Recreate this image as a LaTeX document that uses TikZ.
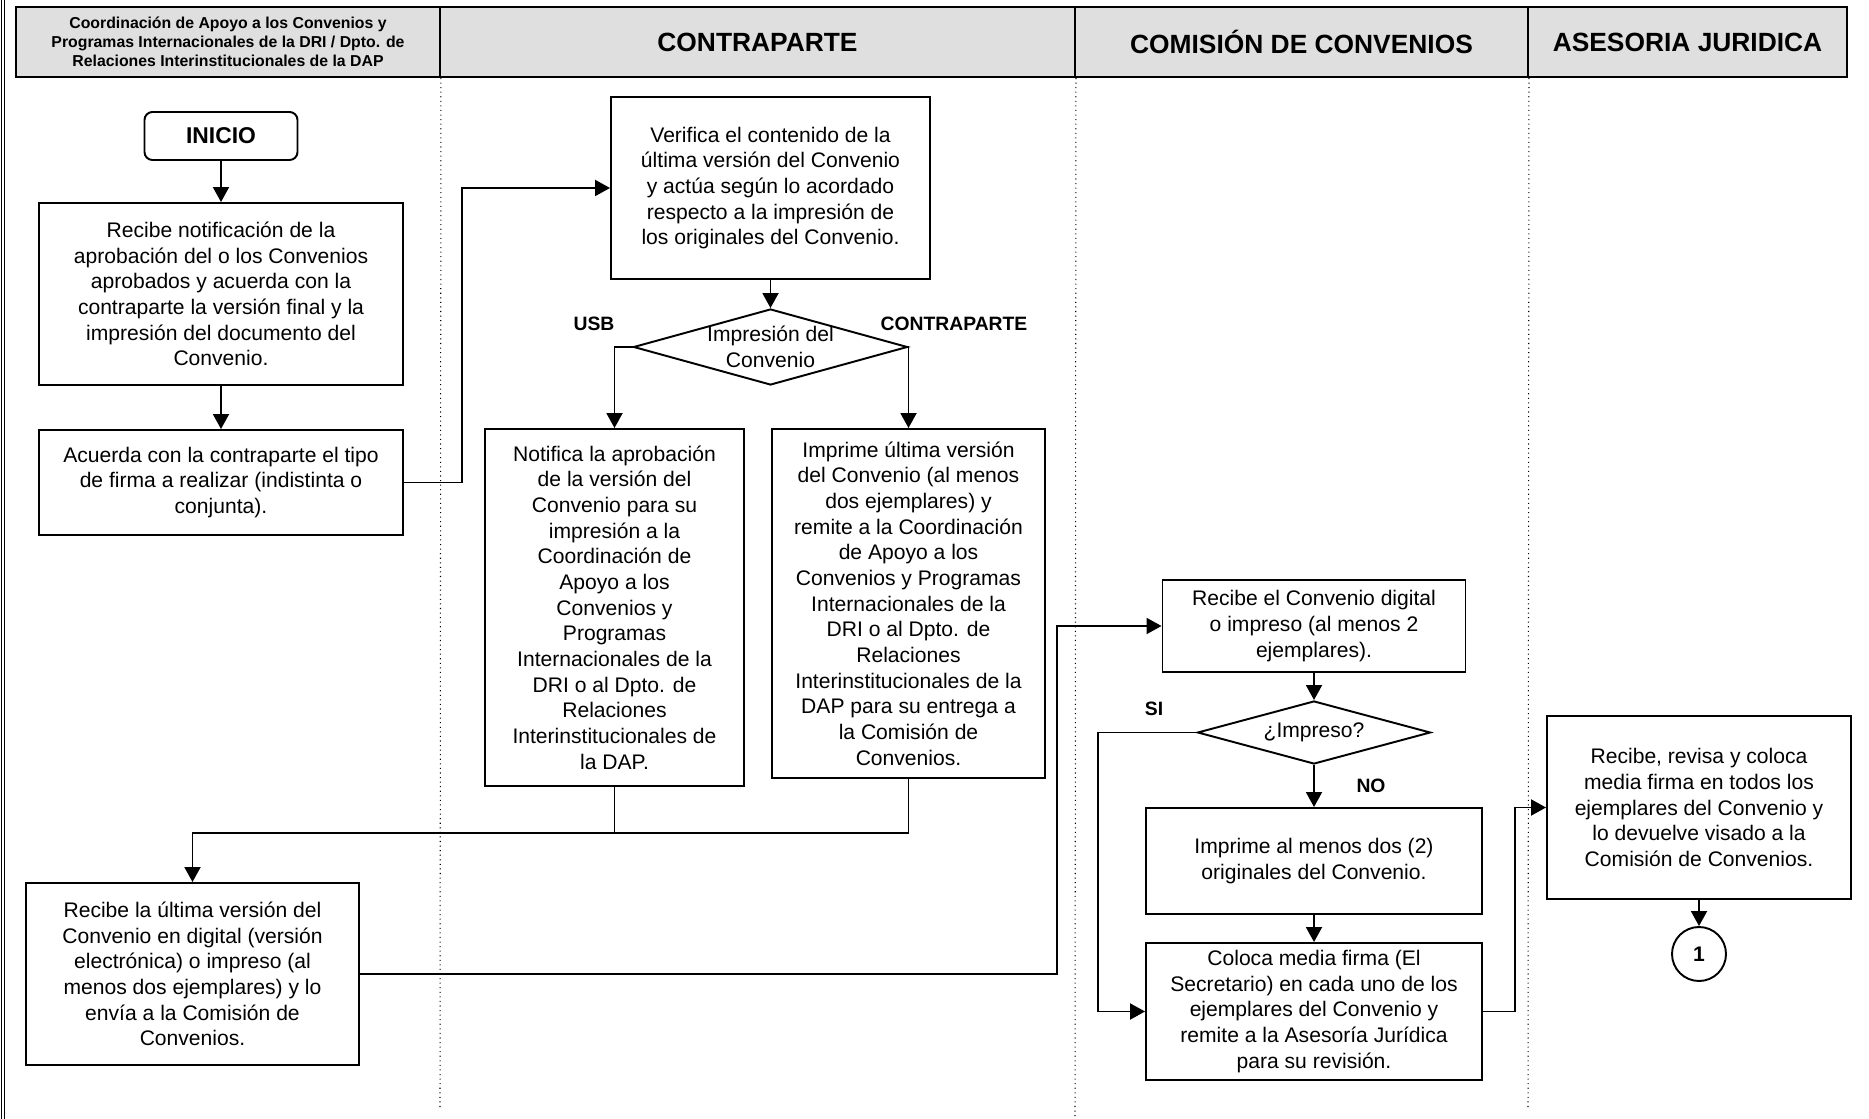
\documentclass[tikz,border=0pt]{standalone}
\usepackage{fontspec}
\setmainfont{Liberation Sans}
\usetikzlibrary{shapes.geometric,arrows.meta}
\newcommand{\cuerpo}{\fontsize{12}{14.6}\selectfont}

\begin{document}
\begin{tikzpicture}[>={Triangle[length=3mm,width=3.2mm]},line width=1.1pt,
  caja/.style={draw,align=center,font=\cuerpo,inner sep=2pt},
  rombo/.style={draw,diamond,inner sep=0pt},
  etiq/.style={font=\fontsize{11}{13}\selectfont\bfseries},
  carril/.style={draw,fill=gray!25,align=center,minimum height=1.4cm,
    font=\fontsize{15}{18}\selectfont\bfseries}]
\useasboundingbox (0,0) rectangle (37.38,-22.38);
% marco izquierdo
\draw[line width=0.6pt] (0.03,0) -- (0.03,-22.38);
\draw[line width=0.6pt] (0.09,0) -- (0.09,-22.38);
% encabezados de los carriles
\node[carril,minimum width=8.48cm,font=\fontsize{9}{10.8}\selectfont\bfseries] (h1) at (4.56,-0.84)
  {Coordinación de Apoyo a los Convenios y\\Programas Internacionales de la DRI / Dpto. de\\Relaciones Interinstitucionales de la DAP};
\node[carril,minimum width=12.7cm] (h2) at (15.15,-0.84) {CONTRAPARTE};
\node[carril,minimum width=9.06cm] (h3) at (26.03,-0.84) {COMISIÓN DE CONVENIOS};
\node[carril,minimum width=6.38cm] (h4) at (33.75,-0.84) {ASESORIA JURIDICA};
\draw[dotted,line width=0.6pt] (h1.south east) -- (8.8,-22.16);
\draw[dotted,line width=0.6pt] (h2.south east) -- (21.5,-22.38);
\draw[dotted,line width=0.6pt] (h3.south east) -- (30.56,-22.16);
% Coordinación / DAP
\node[caja,rounded corners=4.5pt,minimum width=3.06cm,minimum height=0.96cm,
  font=\fontsize{13}{15}\selectfont\bfseries] (ini) at (4.42,-2.72) {INICIO};
\node[caja,minimum width=7.28cm,minimum height=3.64cm] (rnot) at (4.42,-5.88)
  {Recibe notificación de la\\aprobación del o los Convenios\\aprobados y acuerda con la\\contraparte la versión final y la\\impresión del documento del\\Convenio.};
\node[caja,minimum width=7.28cm,minimum height=2.1cm] (acu) at (4.42,-9.65)
  {Acuerda con la contraparte el tipo\\de firma a realizar (indistinta o\\conjunta).};
\node[caja,minimum width=6.66cm,minimum height=3.64cm] (rul) at (3.85,-19.48)
  {Recibe la última versión del\\Convenio en digital (versión\\electrónica) o impreso (al\\menos dos ejemplares) y lo\\envía a la Comisión de\\Convenios.};
% Contraparte
\node[caja,minimum width=6.38cm,minimum height=3.64cm] (ver) at (15.41,-3.76)
  {Verifica el contenido de la\\última versión del Convenio\\y actúa según lo acordado\\respecto a la impresión de\\los originales del Convenio.};
\node[rombo,minimum width=5.48cm,minimum height=1.52cm,
  label={[align=center,font=\cuerpo]center:{Impresión del\\Convenio}}] (dimp) at (15.41,-6.94) {};
\node[etiq] at (11.88,-6.48) {USB};
\node[etiq] at (19.08,-6.48) {CONTRAPARTE};
\node[caja,minimum width=5.18cm,minimum height=7.14cm] (notif) at (12.29,-12.15)
  {Notifica la aprobación\\de la versión del\\Convenio para su\\impresión a la\\Coordinación de\\Apoyo a los\\Convenios y\\Programas\\Internacionales de la\\DRI o al Dpto. de\\Relaciones\\Interinstitucionales de\\la DAP.};
\node[caja,minimum width=5.46cm,minimum height=6.98cm] (imp) at (18.17,-12.07)
  {Imprime última versión\\del Convenio (al menos\\dos ejemplares) y\\remite a la Coordinación\\de Apoyo a los\\Convenios y Programas\\Internacionales de la\\DRI o al Dpto. de\\Relaciones\\Interinstitucionales de la\\DAP para su entrega a\\la Comisión de\\Convenios.};
% Comisión de Convenios
\node[caja,minimum width=6.06cm,minimum height=1.84cm] (rdig) at (26.28,-12.52)
  {Recibe el Convenio digital\\o impreso (al menos 2\\ejemplares).};
\node[rombo,minimum width=4.66cm,minimum height=1.26cm,
  label={[font=\cuerpo]center:¿Impreso?}] (dimp2) at (26.28,-14.65) {};
\node[etiq] at (23.08,-14.18) {SI};
\node[etiq] at (27.42,-15.72) {NO};
\node[caja,minimum width=6.72cm,minimum height=2.12cm] (impm) at (26.28,-17.22)
  {Imprime al menos dos (2)\\originales del Convenio.};
\node[caja,minimum width=6.72cm,minimum height=2.74cm] (col) at (26.28,-20.23)
  {Coloca media firma (El\\Secretario) en cada uno de los\\ejemplares del Convenio y\\remite a la Asesoría Jurídica\\para su revisión.};
% Asesoría Jurídica
\node[caja,minimum width=6.08cm,minimum height=3.66cm] (rev) at (33.98,-16.15)
  {Recibe, revisa y coloca\\media firma en todos los\\ejemplares del Convenio y\\lo devuelve visado a la\\Comisión de Convenios.};
\node[draw,circle,minimum size=1.08cm,inner sep=0pt,font=\cuerpo\bfseries] (c1) at (33.98,-19.08) {1};
% flujo
\draw[->] (ini) -- (rnot);
\draw[->] (rnot) -- (acu);
\draw[->] (acu.east) -- ++(1.16,0) |- (ver.west);
\draw[->] (ver) -- (dimp);
\draw[->] (dimp.west) -| (notif.north);
\draw[->] (dimp.east) -| (imp.north);
\coordinate (jn) at (12.29,-16.66);
\draw (notif.south) -- (jn);
\draw[->] (imp.south) |- (jn) -| (rul.north);
\draw[->] (rul.east) -- ++(13.94,0) |- (rdig.west);
\draw[->] (rdig) -- (dimp2);
\draw[->] (dimp2) -- (impm);
\draw[->] (impm) -- (col);
\draw[->] (dimp2.west) -- ++(-1.98,0) |- (col.west);
\draw[->] (col.east) -- ++(0.64,0) |- (rev.west);
\draw[->] (rev) -- (c1);
\end{tikzpicture}
\end{document}
